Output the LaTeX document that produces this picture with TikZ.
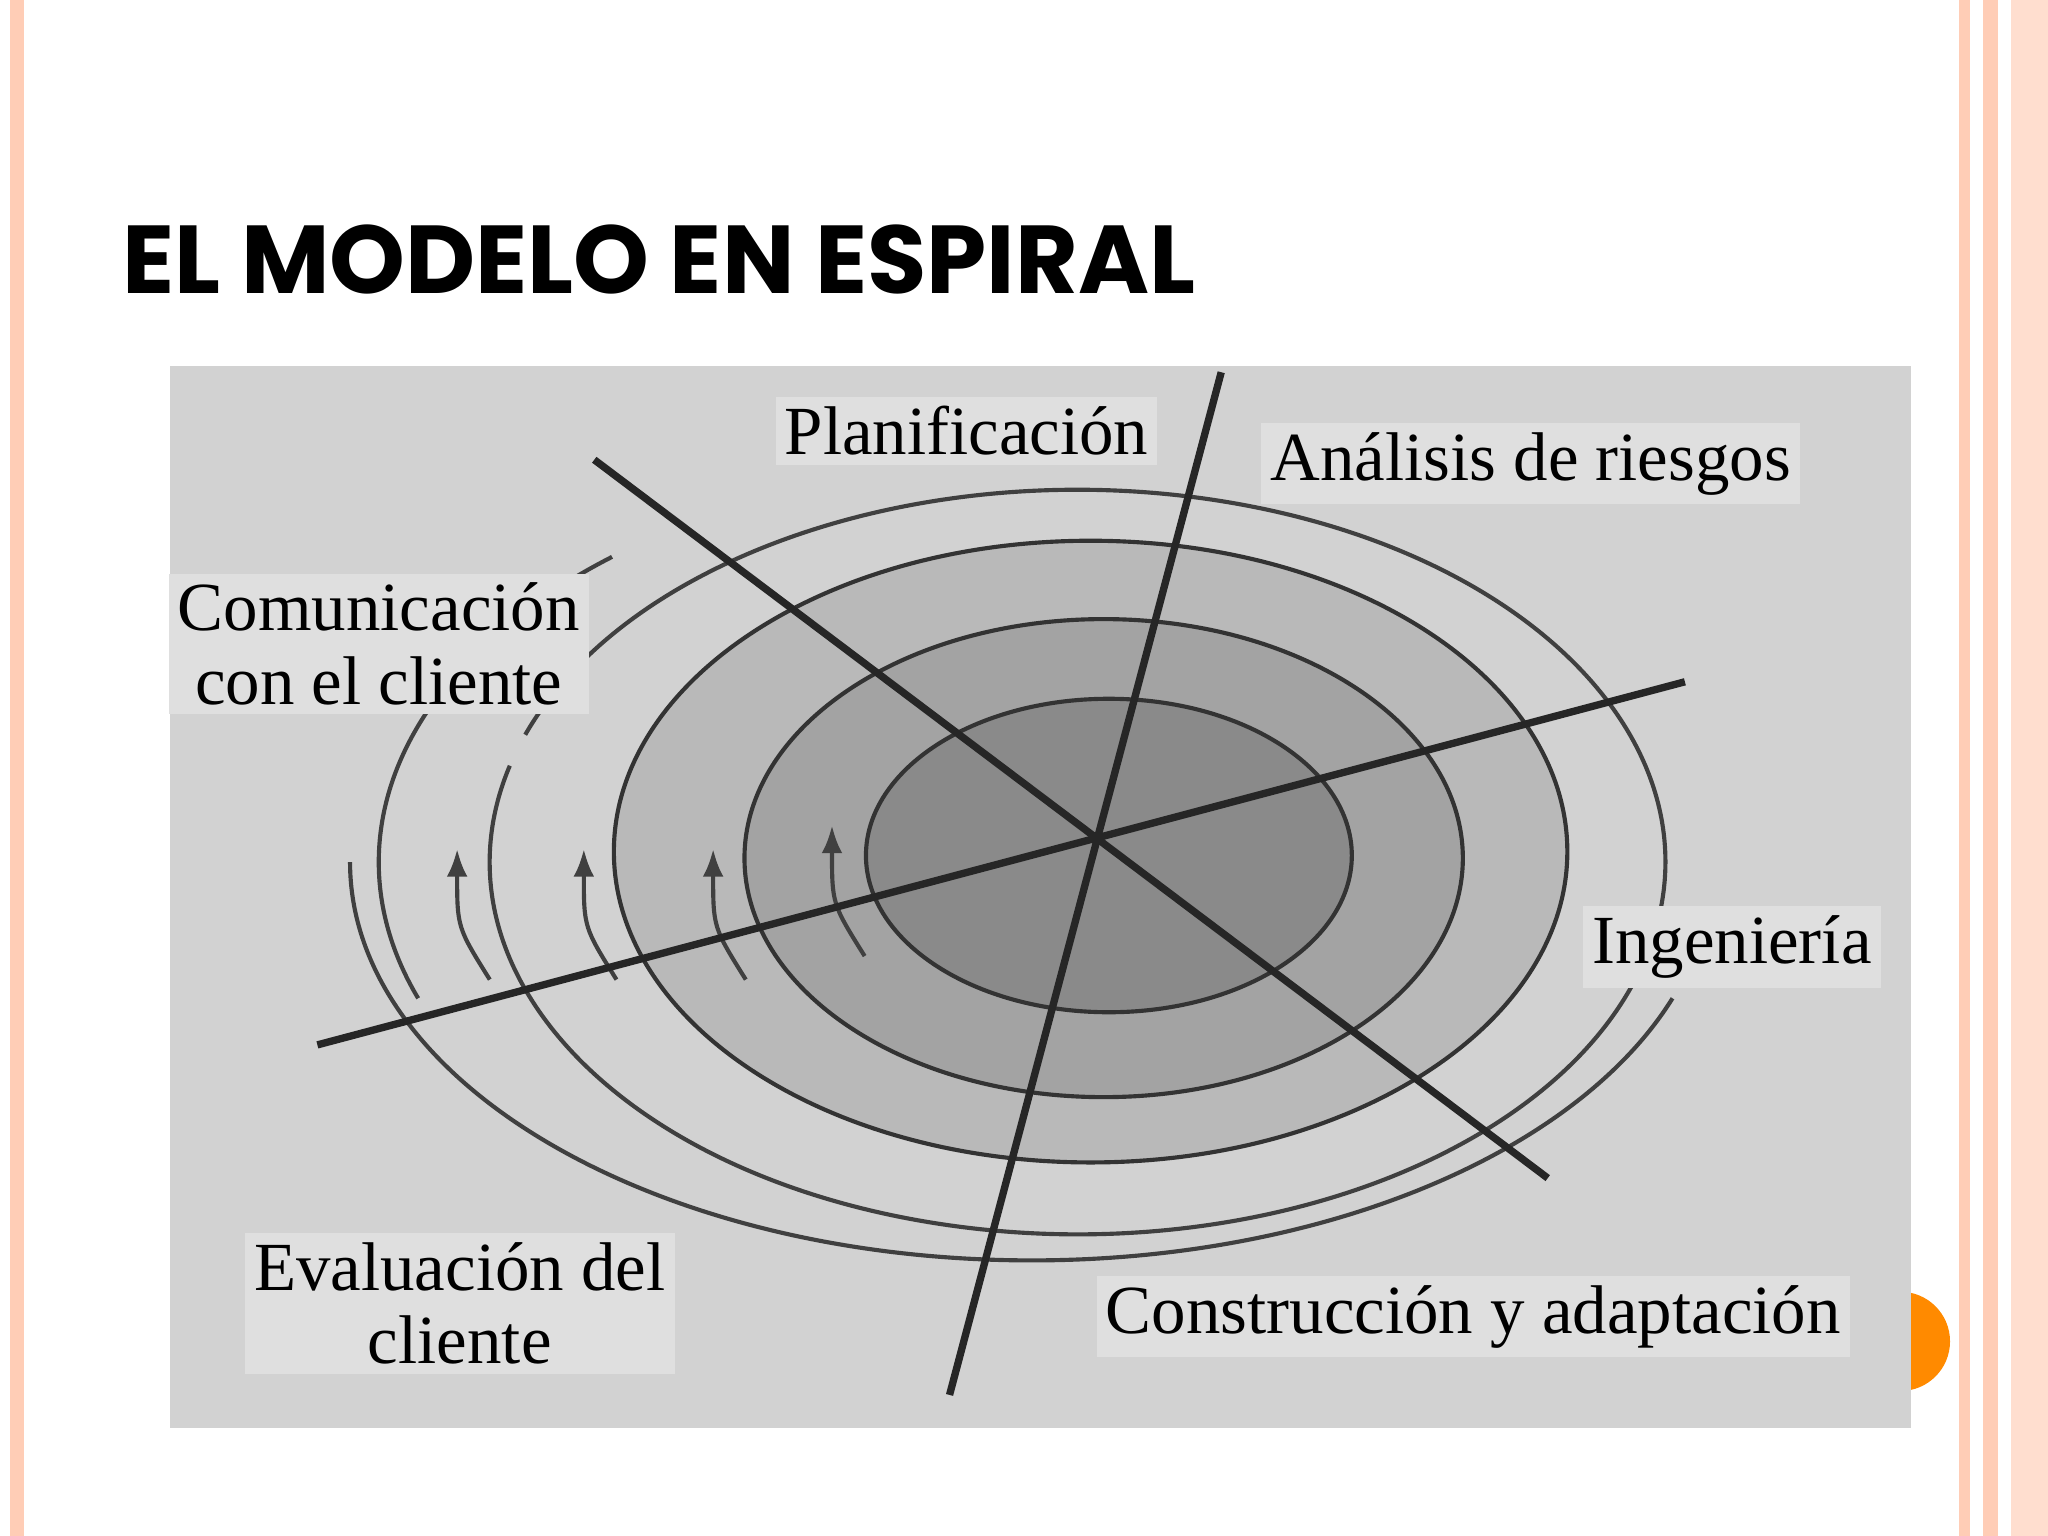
\documentclass[tikz,border=0pt]{standalone}
\usetikzlibrary{arrows.meta}
\usepackage{fontspec}
\setmainfont{Liberation Serif}
\newfontfamily\titlefont{Poppins}
\begin{document}
\begin{tikzpicture}[x=0.01cm,y=-0.01cm,
  lab/.style={fill=gray!25,inner sep=2pt,font=\fontsize{15}{16}\selectfont,align=center},
  axis/.style={line width=1.6pt,black!85},
  ring/.style={draw=black!80,line width=0.9pt},
  arc/.style={draw=black!75,line width=0.9pt}]
\useasboundingbox (0,0) rectangle (1568,1176);
\fill[white] (0,0) rectangle (1568,1176);
\fill[orange!30!pink!60] (8,0) rectangle (18,1176);
\fill[orange!30!pink!60] (1500,0) rectangle (1508,1176);
\fill[orange!30!pink!60] (1518,0) rectangle (1530,1176);
\fill[orange!30!pink!40] (1540,0) rectangle (1568,1176);
\fill[orange!80!yellow!90!red] (1455,1027) circle (38);
\node[anchor=base west,font=\titlefont\bfseries\fontsize{21}{24}\selectfont,inner sep=0] (title) at (93,225) {EL MODELO EN ESPIRAL};
\fill[gray!35] (130,280) rectangle (1463,1093);
% outer arcs
\draw[arc] (825,660) ++(195:450 and 285) arc[start angle=195,end angle=-160,x radius=450,y radius=285];
\draw[arc] (790,660) ++(180:522 and 305) arc[start angle=180,end angle=20,x radius=522,y radius=305];
\draw[arc] (790,660) ++(160:500 and 305) arc[start angle=160,end angle=230,x radius=500,y radius=305];
% filled rings
\filldraw[ring,fill=gray!55] (835,652) ellipse[x radius=365,y radius=238];
\filldraw[ring,fill=gray!72] (845,657) ellipse[x radius=275,y radius=183];
\filldraw[ring,fill=gray!92] (849,655) ellipse[x radius=186,y radius=120];
% small arrows
\foreach \x/\y in {350/650,447/650,546/650,637/632}{
  \draw[arc,-{Latex[length=6pt]}] (\x+25,\y+100) .. controls (\x,\y+60) .. (\x,\y);
}
% axes
\coordinate (a1) at (455,352); \coordinate (a2) at (1185,902);
\coordinate (b1) at (935,285); \coordinate (b2) at (727,1068);
\coordinate (c1) at (243,800); \coordinate (c2) at (1290,522);
\draw[axis] (a1) -- (a2);
\draw[axis] (b1) -- (b2);
\draw[axis] (c1) -- (c2);
% labels
\node[lab] (pl) at (740,330) {Planificación};
\node[lab] (ar) at (1172,355) {Análisis de riesgos};
\node[lab] (cc) at (290,493) {Comunicación\\con el cliente};
\node[lab] (in) at (1326,725) {Ingeniería};
\node[lab] (ev) at (352,998) {Evaluación del\\cliente};
\node[lab] (co) at (1128,1008) {Construcción y adaptación};
\end{tikzpicture}
\end{document}
